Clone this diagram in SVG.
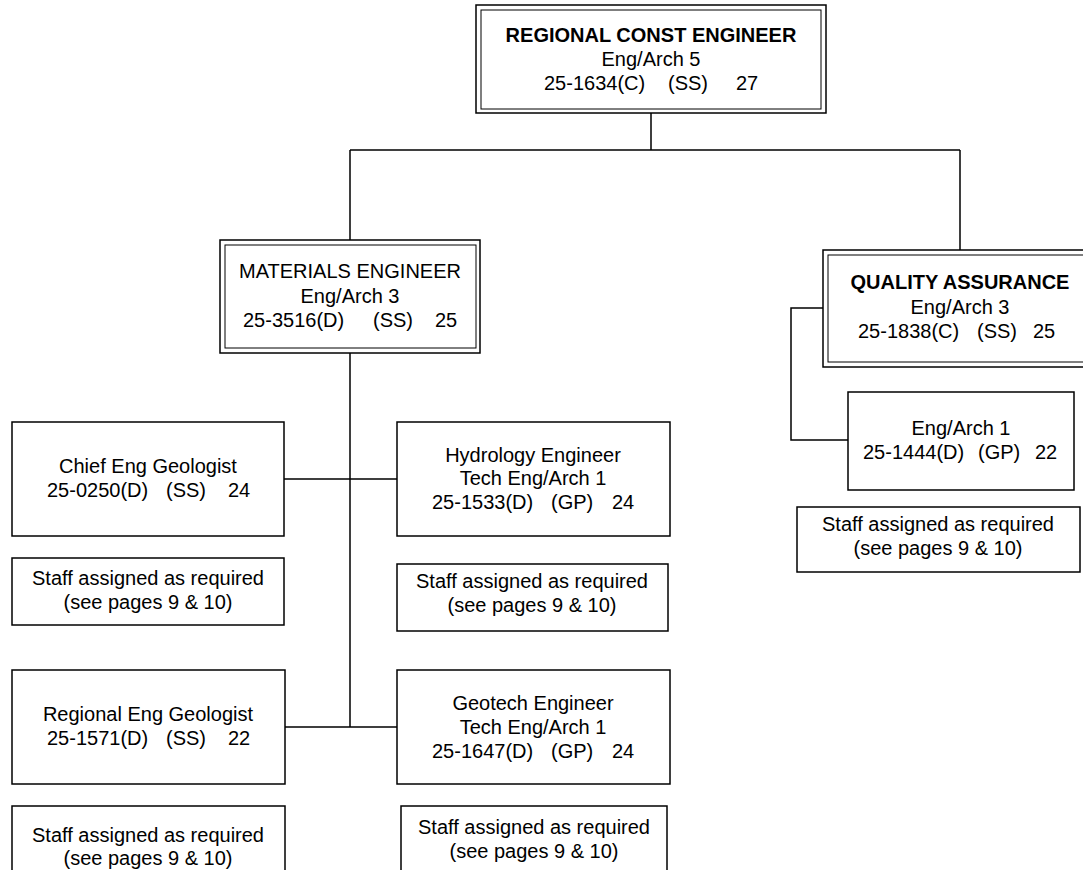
<svg xmlns="http://www.w3.org/2000/svg" width="1083" height="870" viewBox="0 0 1083 870">
<style>
text{font-family:"Liberation Sans",Arial,sans-serif;font-size:20px;fill:#000}
.c{text-anchor:middle}
.b{font-weight:bold}
.box{fill:#fff;stroke:#000;stroke-width:1.5}
.in{fill:none;stroke:#000;stroke-width:1}
.ln{fill:none;stroke:#000;stroke-width:1.5}
</style>
<rect width="1083" height="870" fill="#fff"/>
<g id="connectors">
<path class="ln" d="M651 113V150M350 150H960M350 150V240M960 150V250M350 353V727M284 479H397M285 727H397M823 308H791V440H848"/>
</g>
<g id="regional-const-engineer">
<rect class="box" x="476" y="5" width="350" height="108"/>
<rect class="in" x="481" y="10" width="340" height="99"/>
<text class="c b" x="651" y="42">REGIONAL CONST ENGINEER</text>
<text class="c" x="651" y="66">Eng/Arch 5</text>
<text y="90"><tspan x="544">25-1634(C)</tspan> <tspan x="668">(SS)</tspan> <tspan x="736">27</tspan></text>
</g>
<g id="materials-engineer">
<rect class="box" x="220" y="240" width="260" height="113"/>
<rect class="in" x="225" y="245" width="251" height="103"/>
<text class="c" x="350" y="278">MATERIALS ENGINEER</text>
<text class="c" x="350" y="303">Eng/Arch 3</text>
<text y="327"><tspan x="243">25-3516(D)</tspan> <tspan x="373">(SS)</tspan> <tspan x="435">25</tspan></text>
</g>
<g id="quality-assurance">
<rect class="box" x="823" y="250" width="274" height="117"/>
<rect class="in" x="828" y="255" width="264" height="107"/>
<text class="c b" x="960" y="289">QUALITY ASSURANCE</text>
<text class="c" x="960" y="314">Eng/Arch 3</text>
<text y="338"><tspan x="858">25-1838(C)</tspan> <tspan x="977">(SS)</tspan> <tspan x="1033">25</tspan></text>
</g>
<g id="qa-eng-arch-1">
<rect class="box" x="848" y="392" width="226" height="98"/>
<text class="c" x="961" y="435">Eng/Arch 1</text>
<text y="459"><tspan x="863">25-1444(D)</tspan> <tspan x="978">(GP)</tspan> <tspan x="1035">22</tspan></text>
</g>
<g id="qa-staff">
<rect class="box" x="797" y="507" width="283" height="65"/>
<text class="c" x="938" y="531">Staff assigned as required</text>
<text class="c" x="938" y="555">(see pages 9 &amp; 10)</text>
</g>
<g id="chief-eng-geologist">
<rect class="box" x="12" y="422" width="272" height="114"/>
<text class="c" x="148" y="473">Chief Eng Geologist</text>
<text y="497"><tspan x="47">25-0250(D)</tspan> <tspan x="166">(SS)</tspan> <tspan x="228">24</tspan></text>
</g>
<g id="chief-staff">
<rect class="box" x="12" y="558" width="272" height="67"/>
<text class="c" x="148" y="585">Staff assigned as required</text>
<text class="c" x="148" y="609">(see pages 9 &amp; 10)</text>
</g>
<g id="hydrology-engineer">
<rect class="box" x="397" y="422" width="273" height="114"/>
<text class="c" x="533" y="462">Hydrology Engineer</text>
<text class="c" x="533" y="485">Tech Eng/Arch 1</text>
<text y="509"><tspan x="432">25-1533(D)</tspan> <tspan x="551">(GP)</tspan> <tspan x="612">24</tspan></text>
</g>
<g id="hydrology-staff">
<rect class="box" x="397" y="564" width="271" height="67"/>
<text class="c" x="532" y="588">Staff assigned as required</text>
<text class="c" x="532" y="612">(see pages 9 &amp; 10)</text>
</g>
<g id="regional-eng-geologist">
<rect class="box" x="12" y="670" width="273" height="114"/>
<text class="c" x="148" y="721">Regional Eng Geologist</text>
<text y="745"><tspan x="47">25-1571(D)</tspan> <tspan x="166">(SS)</tspan> <tspan x="228">22</tspan></text>
</g>
<g id="regional-staff">
<rect class="box" x="12" y="806" width="273" height="74"/>
<text class="c" x="148" y="842">Staff assigned as required</text>
<text class="c" x="148" y="865">(see pages 9 &amp; 10)</text>
</g>
<g id="geotech-engineer">
<rect class="box" x="397" y="670" width="273" height="114"/>
<text class="c" x="533" y="710">Geotech Engineer</text>
<text class="c" x="533" y="734">Tech Eng/Arch 1</text>
<text y="758"><tspan x="432">25-1647(D)</tspan> <tspan x="551">(GP)</tspan> <tspan x="612">24</tspan></text>
</g>
<g id="geotech-staff">
<rect class="box" x="401" y="806" width="266" height="74"/>
<text class="c" x="534" y="834">Staff assigned as required</text>
<text class="c" x="534" y="858">(see pages 9 &amp; 10)</text>
</g>
</svg>
